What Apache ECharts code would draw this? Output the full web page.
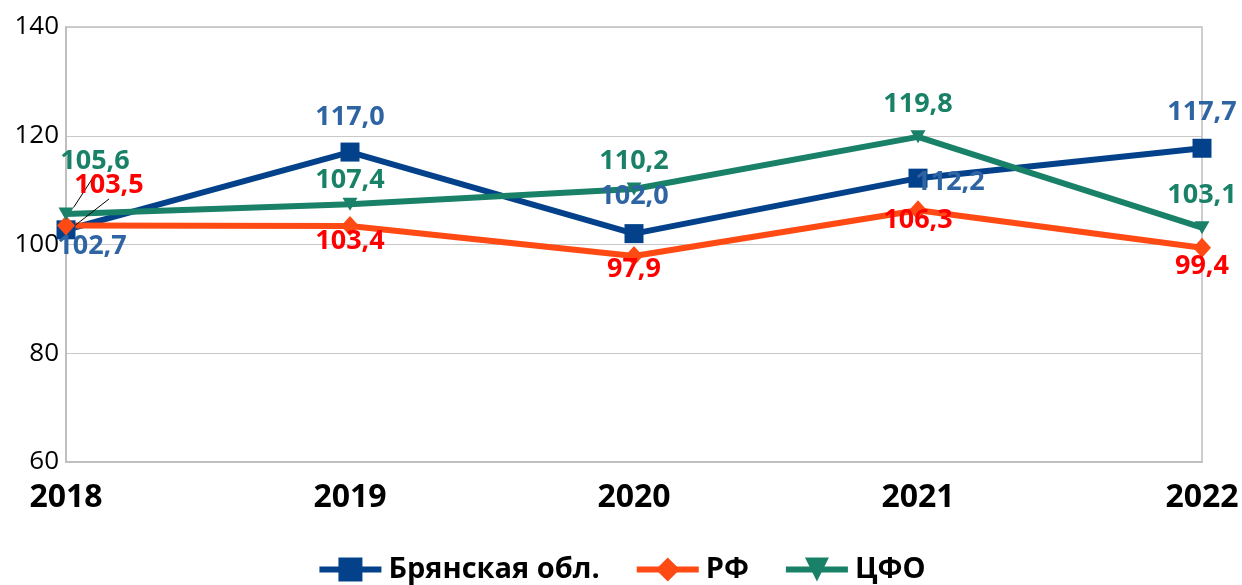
<!DOCTYPE html>
<html>
<head>
<meta charset="utf-8">
<script src="https://cdn.jsdelivr.net/npm/echarts@6/dist/echarts.min.js"></script>
<style>
html,body{margin:0;padding:0;background:#fff;}
#chart{width:1242px;height:585px;}
</style>
</head>
<body>
<div id="chart"></div>
<script>
const years = ['2018', '2019', '2020', '2021', '2022'];
const seriesNames = ['Брянская обл.', 'РФ', 'ЦФО'];
const bryansk = [102.7, 117.0, 102.0, 112.2, 117.7];
const rf = [103.5, 103.4, 97.9, 106.3, 99.4];
const cfo = [105.6, 107.4, 110.2, 119.8, 103.1];
const yTicks = [60, 80, 100, 120, 140];

// label offsets (style only)
const offB = [[26, 16], [0, -35], [0, -37], [32, 4], [0, -36]];
const offR = [[43, -40], [0, 15], [0, 13], [0, 10], [0, 19]];
const offC = [[29, -53], [0, -24], [0, -28], [0, -33], [0, -32]];
const leaderR = [true, false, false, false, false];
const leaderC = [true, false, false, false, false];

const FONT = '"Open Sans", "Noto Sans", sans-serif';
const fmt = v => v.toFixed(1).replace('.', ',');

function mk(values, offs, leaders) {
  return values.map((v, i) => {
    const item = { value: v, label: { offset: offs[i] } };
    if (leaders && leaders[i]) {
      item.labelLine = { show: true, lineStyle: { color: '#000', width: 1 } };
    }
    return item;
  });
}

const chart = echarts.init(document.getElementById('chart'), null, { renderer: 'canvas' });

function series(name, values, offs, leaders, lineColor, labelColor, symbol, size, rotate) {
  return {
    name: name,
    type: 'line',
    data: mk(values, offs, leaders),
    symbol: symbol,
    symbolSize: size,
    symbolRotate: rotate || 0,
    lineStyle: { color: lineColor, width: 6 },
    itemStyle: { color: lineColor },
    label: {
      show: true,
      position: 'inside',
      color: labelColor,
      fontFamily: FONT,
      fontWeight: 'bold',
      fontSize: 27,
      formatter: p => fmt(p.value)
    },
    z: 2
  };
}

chart.setOption({
  animation: false,
  backgroundColor: '#fff',
  grid: {
    left: 66, right: 40, top: 27, bottom: 123,
    show: true, borderColor: '#bfbfbf', borderWidth: 1.5
  },
  xAxis: {
    type: 'category',
    data: years,
    boundaryGap: false,
    axisLine: { lineStyle: { color: '#bfbfbf', width: 2 } },
    axisTick: { show: false },
    axisLabel: {
      color: '#000', fontFamily: FONT, fontWeight: 'bold', fontSize: 32, margin: 20
    },
    splitLine: { show: false }
  },
  yAxis: {
    type: 'value',
    min: yTicks[0], max: yTicks[yTicks.length - 1], interval: 20,
    axisLine: { show: true, lineStyle: { color: '#bfbfbf', width: 2 } },
    axisTick: { show: false },
    axisLabel: { color: '#000', fontFamily: FONT, fontSize: 26, margin: 7 },
    splitLine: { lineStyle: { color: '#c8c8c8', width: 1.2 } }
  },
  legend: {
    top: 550,
    left: 'center',
    itemWidth: 62,
    itemHeight: 30,
    itemGap: 34,
    lineStyle: { width: 6 },
    textStyle: { color: '#000', fontFamily: FONT, fontWeight: 'bold', fontSize: 29, padding: [0, 0, 0, 2] },
    data: seriesNames
  },
  series: [
    series(seriesNames[0], bryansk, offB, null, '#03428a', '#2f64a3', 'rect', 19),
    series(seriesNames[1], rf, offR, leaderR, '#ff4a14', '#ff0000', 'diamond', [18, 20]),
    series(seriesNames[2], cfo, offC, leaderC, '#198167', '#198167', 'triangle', [15, 13], 180)
  ]
});
</script>
</body>
</html>
